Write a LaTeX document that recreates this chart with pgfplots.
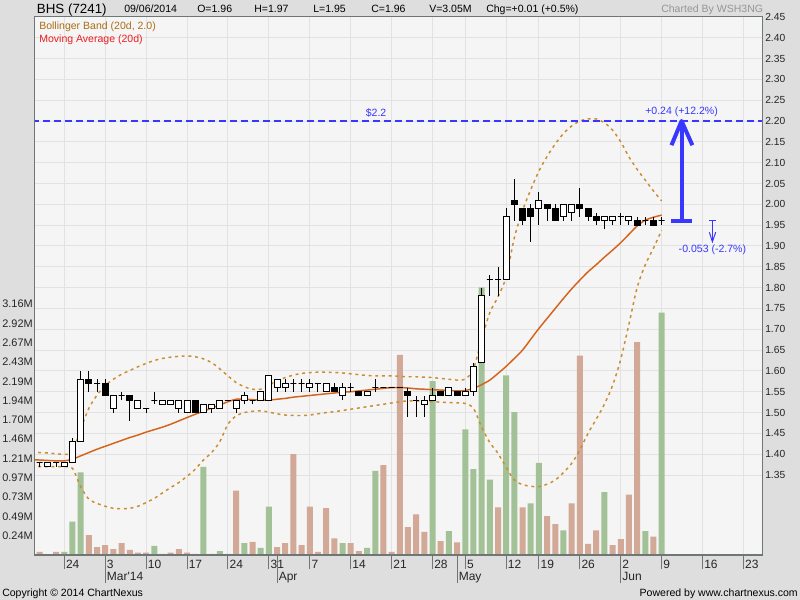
\documentclass[border=0pt]{standalone}
\usepackage{pgfplots}
\pgfplotsset{compat=1.18}
\usepackage{pgfplotstable}
\usepackage{fontspec}
\setmainfont{Liberation Sans}

\definecolor{outerbg}{RGB}{222,222,222}
\definecolor{plotbg}{RGB}{245,245,245}
\definecolor{gridgray}{RGB}{226,226,226}
\definecolor{framegray}{RGB}{110,118,118}
\definecolor{volup}{RGB}{163,193,150}
\definecolor{voldown}{RGB}{210,168,151}
\definecolor{bband}{RGB}{204,140,48}
\definecolor{bbandtext}{RGB}{170,110,20}
\definecolor{maline}{RGB}{212,100,28}
\definecolor{matext}{RGB}{235,30,30}
\definecolor{annblue}{RGB}{55,55,255}
\definecolor{credit}{RGB}{150,150,150}

% trading day index: 0 = 19 Feb 2014
\pgfplotstableread{
idx o h l c
0 1.38 1.38 1.37 1.38
1 1.37 1.38 1.37 1.38
2 1.38 1.38 1.37 1.38
3 1.37 1.38 1.37 1.38
4 1.38 1.44 1.38 1.43
5 1.43 1.60 1.43 1.58
6 1.58 1.60 1.55 1.57
7 1.57 1.58 1.55 1.57
8 1.57 1.58 1.54 1.54
9 1.51 1.54 1.50 1.54
10 1.54 1.55 1.53 1.54
11 1.54 1.54 1.48 1.53
12 1.51 1.53 1.51 1.53
13 1.51 1.51 1.50 1.51
14 1.53 1.55 1.52 1.53
15 1.52 1.53 1.52 1.53
16 1.52 1.53 1.52 1.53
17 1.51 1.53 1.50 1.53
18 1.50 1.53 1.50 1.53
19 1.53 1.53 1.50 1.50
20 1.50 1.52 1.50 1.52
21 1.51 1.52 1.50 1.52
22 1.51 1.53 1.51 1.53
23 1.53 1.53 1.53 1.53
24 1.51 1.53 1.50 1.53
25 1.53 1.55 1.52 1.54
26 1.53 1.53 1.52 1.53
27 1.53 1.55 1.53 1.55
28 1.53 1.59 1.53 1.59
29 1.56 1.58 1.55 1.58
30 1.56 1.58 1.55 1.57
31 1.57 1.58 1.55 1.57
32 1.57 1.58 1.55 1.57
33 1.56 1.58 1.55 1.57
34 1.57 1.57 1.55 1.57
35 1.55 1.57 1.55 1.57
36 1.56 1.57 1.55 1.55
37 1.54 1.57 1.53 1.56
38 1.56 1.57 1.55 1.56
39 1.55 1.55 1.54 1.54
40 1.54 1.55 1.54 1.55
41 1.56 1.58 1.55 1.56
42 1.56 1.56 1.56 1.56
43 1.56 1.56 1.56 1.56
44 1.56 1.56 1.56 1.56
45 1.55 1.56 1.49 1.54
46 1.53 1.54 1.49 1.53
47 1.52 1.54 1.49 1.53
48 1.53 1.56 1.53 1.54
49 1.55 1.55 1.54 1.54
50 1.54 1.56 1.54 1.56
51 1.55 1.55 1.54 1.54
52 1.54 1.56 1.54 1.55
53 1.55 1.62 1.54 1.61
54 1.62 1.80 1.62 1.78
55 1.82 1.83 1.78 1.82
56 1.82 1.85 1.78 1.82
57 1.82 1.99 1.82 1.97
58 2.01 2.06 1.96 2.00
59 1.99 1.99 1.95 1.96
60 1.99 2.00 1.91 1.97
61 1.99 2.03 1.95 2.01
62 2.00 2.00 1.96 1.99
63 1.99 2.00 1.96 1.96
64 1.97 2.00 1.96 2.00
65 1.98 2.00 1.96 2.00
66 2.00 2.04 1.97 1.99
67 1.99 1.99 1.96 1.97
68 1.97 1.98 1.95 1.96
69 1.96 1.97 1.94 1.97
70 1.96 1.97 1.95 1.97
71 1.97 1.98 1.95 1.97
72 1.96 1.97 1.95 1.97
73 1.96 1.97 1.95 1.95
74 1.96 1.97 1.95 1.96
75 1.96 1.97 1.95 1.95
76 1.96 1.97 1.95 1.96
}\ohlc

% volume (millions), down days
\pgfplotstableread{
idx v
0 0.04
2 0.04
6 0.25
7 0.10
8 0.125
9 0.075
10 0.15
11 0.065
12 0.03
13 0.03
15 0.015
16 0.03
17 0.075
18 0.03
19 0.015
21 0.015
23 0.015
24 0.81
26 0.165
29 0.10
30 0.15
31 1.27
32 0.125
33 0.61
34 0.04
35 0.59
36 0.21
38 0.15
39 0.05
42 1.13
43 0.04
44 2.52
45 0.35
46 0.51
47 0.29
49 0.175
51 0.16
56 0.60
59 0.60
62 0.49
63 0.39
65 0.65
66 2.51
67 0.14
68 0.31
70 0.125
71 0.20
72 0.76
73 2.68
75 0.23
}\voldn

% volume (millions), up days
\pgfplotstableread{
idx v
3 0.04
4 0.42
5 1.04
14 0.115
20 1.11
22 0.05
25 0.15
27 0.09
28 0.61
37 0.15
40 0.09
41 1.06
48 2.19
50 0.30
52 1.58
53 1.08
54 3.37
55 0.95
57 2.26
58 1.80
60 0.65
61 1.16
64 0.31
69 0.79
74 0.30
76 3.05
}\volupt

% 20d moving average and Bollinger band (20d, 2.0)
\pgfplotstableread{
idx ma up lo
-1 1.387 1.405 1.370
0 1.386 1.404 1.370
1 1.385 1.403 1.370
2 1.384 1.401 1.370
3 1.384 1.400 1.370
4 1.388 1.405 1.366
5 1.396 1.460 1.322
6 1.404 1.510 1.292
7 1.412 1.542 1.282
8 1.419 1.565 1.275
9 1.426 1.580 1.270
10 1.433 1.592 1.269
11 1.440 1.601 1.270
12 1.446 1.610 1.275
13 1.453 1.618 1.284
14 1.459 1.625 1.294
15 1.465 1.630 1.307
16 1.472 1.633 1.320
17 1.480 1.635 1.332
18 1.488 1.636 1.347
19 1.496 1.634 1.364
20 1.503 1.629 1.386
21 1.511 1.620 1.404
22 1.518 1.605 1.430
23 1.526 1.588 1.472
24 1.532 1.572 1.492
25 1.532 1.562 1.500
26 1.531 1.556 1.503
27 1.530 1.556 1.504
28 1.530 1.566 1.501
29 1.532 1.576 1.497
30 1.534 1.584 1.494
31 1.537 1.590 1.493
32 1.539 1.594 1.493
33 1.541 1.596 1.494
34 1.543 1.597 1.497
35 1.545 1.597 1.500
36 1.547 1.596 1.502
37 1.549 1.595 1.505
38 1.550 1.593 1.508
39 1.552 1.591 1.511
40 1.554 1.589 1.514
41 1.556 1.588 1.517
42 1.558 1.588 1.520
43 1.560 1.588 1.523
44 1.560 1.587 1.526
45 1.559 1.586 1.528
46 1.557 1.586 1.528
47 1.556 1.585 1.527
48 1.555 1.584 1.526
49 1.554 1.582 1.525
50 1.553 1.580 1.524
51 1.552 1.578 1.523
52 1.553 1.580 1.522
53 1.558 1.605 1.510
54 1.567 1.675 1.465
55 1.578 1.740 1.428
56 1.594 1.778 1.402
57 1.611 1.826 1.368
58 1.630 1.920 1.338
59 1.650 1.985 1.327
60 1.676 2.035 1.323
61 1.702 2.080 1.322
62 1.726 2.115 1.328
63 1.750 2.145 1.338
64 1.774 2.170 1.356
65 1.797 2.188 1.378
66 1.818 2.200 1.410
67 1.838 2.205 1.450
68 1.855 2.205 1.484
69 1.873 2.196 1.520
70 1.890 2.178 1.565
71 1.908 2.150 1.628
72 1.928 2.114 1.712
73 1.948 2.084 1.800
74 1.962 2.058 1.855
75 1.969 2.032 1.895
76 1.974 2.008 1.938
}\bands

% candle parts; 312.36pt per price unit on this axis
\newdimen\candleh
\pgfdeclareplotmark{wick}{%
  \pgfpathmoveto{\pgfpointorigin}%
  \pgfpathlineto{\pgfpoint{0pt}{\wickh*1pt}}%
  \pgfusepathqstroke}
\pgfdeclareplotmark{candle}{%
  \pgfmathsetlength\candleh{\bodyh*1pt}%
  \ifdim\candleh<0pt \pgfsetfillcolor{black}\else\pgfsetfillcolor{white}\fi
  \pgfpathrectangle{\pgfpoint{-2.25pt}{0pt}}{\pgfpoint{4.5pt}{\candleh}}%
  \pgfusepathqfillstroke}

\pgfplotsset{
  chartbase/.style={
    at={(0,0)}, anchor=south west, scale only axis,
    width=545.25pt, height=403.575pt,
    xmin=-0.58, xmax=88.26,
  },
}

\newcommand{\hdr}{\fontsize{7.9pt}{9pt}\selectfont}

\begin{document}
\begin{tikzpicture}[x=0.75pt, y=0.75pt]
\fill[outerbg] (-35,-45) rectangle (765,555);
\path[use as bounding box] (-35,-45) rectangle (765,555);

% grid layer
\begin{axis}[chartbase, ymin=1.158, ymax=2.45,
  axis background/.style={fill=plotbg},
  axis line style={draw=none},
  xtick={3,8,13,18,23,28,33,38,43,48,52,57,61,66,71,76,81,86},
  ytick={1.35,1.40,1.45,1.50,1.55,1.60,1.65,1.70,1.75,1.80,1.85,1.90,1.95,2.00,2.05,2.10,2.15,2.20,2.25,2.30,2.35,2.40},
  xticklabels={}, yticklabels={},
  major tick length=0pt,
  grid=major, major grid style={gridgray, line width=0.75pt}]
\end{axis}

% volume
\begin{axis}[chartbase, ymin=0, ymax=6.774,
  ybar, bar width=4.5pt,
  axis line style={draw=none},
  xtick=\empty, ytick pos=left, major tick length=0pt,
  ytick={0.243,0.486,0.729,0.972,1.215,1.458,1.701,1.944,2.187,2.430,2.673,2.916,3.159},
  yticklabels={0.24M,0.49M,0.73M,0.97M,1.21M,1.46M,1.70M,1.94M,2.19M,2.43M,2.67M,2.92M,3.16M},
  yticklabel style={font=\fontsize{8.2pt}{9pt}\selectfont, text=black!85,
    anchor=east, inner sep=0pt, xshift=-1.5pt}]
\addplot[bar shift=0pt, fill=voldown, draw=none] table[x=idx, y=v] {\voldn};
\addplot[bar shift=0pt, fill=volup, draw=none] table[x=idx, y=v] {\volupt};
\end{axis}

% price
\begin{axis}[chartbase, ymin=1.158, ymax=2.45,
  axis line style={framegray, line width=0.75pt},
  tick align=outside, major tick length=10.5pt,
  tick style={framegray, line width=0.75pt},
  ytick style={draw=none},
  xtick pos=bottom, ytick pos=right, yticklabel pos=right,
  ytick={1.35,1.40,1.45,1.50,1.55,1.60,1.65,1.70,1.75,1.80,1.85,1.90,1.95,2.00,2.05,2.10,2.15,2.20,2.25,2.30,2.35,2.40,2.45},
  yticklabels={1.35,1.40,1.45,1.50,1.55,1.60,1.65,1.70,1.75,1.80,1.85,1.90,1.95,2.00,2.05,2.10,2.15,2.20,2.25,2.30,2.35,2.40,2.45},
  yticklabel style={font=\fontsize{7.7pt}{9pt}\selectfont, text=black!85,
    anchor=west, inner sep=0pt, xshift=-8.25pt},
  xtick={3,8,13,18,23,28,33,38,43,48,52,57,61,66,71,76,81,86},
  xticklabels={24,3,10,17,24,31,7,14,21,28,5,12,19,26,2,9,16,23},
  xticklabel style={font=\fontsize{9pt}{10pt}\selectfont, text=black!85,
    anchor=base west, inner sep=0pt, xshift=1.1pt, yshift=0.75pt},
  extra x ticks={8,29,51,71},
  extra x tick labels={Mar\textquotesingle14,Apr,May,Jun},
  extra x tick style={major tick length=21pt,
    xticklabel style={yshift=1.5pt}},
  clip=true]
\addplot[bband, line width=1.1pt, dash pattern=on 2.2pt off 2.8pt, smooth] table[x=idx, y=up] {\bands};
\addplot[bband, line width=1.1pt, dash pattern=on 2.2pt off 2.8pt, smooth] table[x=idx, y=lo] {\bands};
\addplot[maline, line width=1.1pt, smooth] table[x=idx, y=ma] {\bands};
\addplot[only marks, mark=wick, mark options={draw=black, line width=0.75pt},
  visualization depends on={312.36*(\thisrow{h}-\thisrow{l}) \as \wickh}]
  table[x=idx, y=l] {\ohlc};
\addplot[only marks, mark=candle, mark options={draw=black, line width=0.75pt},
  visualization depends on={312.36*(\thisrow{c}-\thisrow{o}) \as \bodyh}]
  table[x=idx, y=o] {\ohlc};
% target and drop annotations
\addplot[annblue, line width=0.9pt, dash pattern=on 5.25pt off 3pt] coordinates {(-1,2.20) (89,2.20)};
\addplot[annblue, line width=3pt] coordinates {(78.43,1.96) (78.43,2.195)};
\addplot[annblue, line width=3pt, line join=round] coordinates {(77.2,2.142) (78.43,2.20) (79.75,2.142)};
\addplot[annblue, line width=3.5pt] coordinates {(77.19,1.96) (79.72,1.96)};
\addplot[annblue, line width=0.75pt] coordinates {(81.8,1.961) (82.6,1.961)};
\addplot[annblue, line width=0.75pt] coordinates {(82.2,1.961) (82.2,1.910)};
\addplot[annblue, line width=0.75pt] coordinates {(81.83,1.933) (82.2,1.910) (82.6,1.933)};
\node[annblue, font=\hdr] at (axis cs:41.1,2.219) {\$2.2};
\node[annblue, font=\hdr] at (axis cs:78.43,2.222) {+0.24 (+12.2\%)};
\node[annblue, font=\hdr] at (axis cs:82.2,1.890) {-0.053 (-2.7\%)};
\end{axis}

% header, legend and credits
\begin{scope}[every node/.style={inner sep=0pt}]
\node[anchor=base west, font=\fontsize{10pt}{12pt}\selectfont] at (1.7,541.7) {BHS (7241)};
\node[anchor=base west, font=\hdr] at (89,542.7) {09/06/2014};
\node[anchor=base west, font=\hdr] at (162,542.7) {O=1.96};
\node[anchor=base west, font=\hdr] at (219,542.7) {H=1.97};
\node[anchor=base west, font=\hdr] at (278,542.7) {L=1.95};
\node[anchor=base west, font=\hdr] at (336,542.7) {C=1.96};
\node[anchor=base west, font=\hdr] at (394,542.7) {V=3.05M};
\node[anchor=base west, font=\hdr] at (451,542.7) {Chg=+0.01 (+0.5\%)};
\node[anchor=base west, font=\hdr, text=credit] at (626,542.7) {Charted By WSH3NG};
\node[anchor=base west, font=\hdr, text=bbandtext] at (4,525.7) {Bollinger Band (20d, 2.0)};
\node[anchor=base west, font=\hdr, text=matext] at (4,512.3) {Moving Average (20d)};
\node[anchor=base west, font=\hdr] at (-33,-41.7) {Copyright © 2014 ChartNexus};
\node[anchor=base east, font=\hdr] at (763,-41.7) {Powered by www.chartnexus.com};
\end{scope}
\end{tikzpicture}
\end{document}
